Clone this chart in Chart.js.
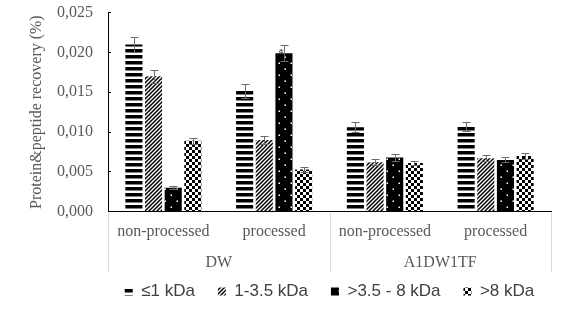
<!DOCTYPE html>
<html>
<head>
<meta charset="utf-8">
<script src="https://cdn.jsdelivr.net/npm/chart.js@4.4.1/dist/chart.umd.min.js"></script>
<style>
  html, body { margin: 0; padding: 0; background: #fff; }
  #wrap { width: 568px; height: 310px; }
</style>
</head>
<body>
<div id="wrap"><canvas id="recoveryChart"></canvas></div>
<script>
const treatments = ['non-processed', 'processed', 'non-processed', 'processed'];
const waters = ['DW', 'A1DW1TF'];
const seriesNames = ['≤1 kDa', '1-3.5 kDa', '>3.5 - 8 kDa', '>8 kDa'];

const below1 = [0.0210, 0.0152, 0.0106, 0.0107];
const below1Err = [0.0010, 0.0009, 0.0006, 0.0006];
const from1to35 = [0.0170, 0.0090, 0.0062, 0.0067];
const from1to35Err = [0.0008, 0.0005, 0.0004, 0.0004];
const from35to8 = [0.0030, 0.0199, 0.0068, 0.0065];
const from35to8Err = [0.0002, 0.0010, 0.0004, 0.0003];
const above8 = [0.0089, 0.0053, 0.0061, 0.0070];
const above8Err = [0.0004, 0.0003, 0.0003, 0.0004];

// small letter marks over bars: [series, category, text]
const marks = [[2, 1, 'a']];

const serif = 'Liberation Serif';
const grey = '#595959';

function tile(w, h, paint) {
  const c = document.createElement('canvas');
  c.width = w; c.height = h;
  const g = c.getContext('2d');
  paint(g);
  return g.createPattern(c, 'repeat');
}

const hStripes = tile(6, 6, g => {
  g.fillStyle = '#fff'; g.fillRect(0, 0, 6, 6);
  g.fillStyle = '#000'; g.fillRect(0, 1, 6, 3.5);
});
const diagStripes = tile(4, 4, g => {
  g.fillStyle = '#fff'; g.fillRect(0, 0, 4, 4);
  g.strokeStyle = '#000'; g.lineWidth = 1.5;
  g.beginPath();
  g.moveTo(-1, 5); g.lineTo(5, -1);
  g.moveTo(-1, 1); g.lineTo(1, -1);
  g.moveTo(3, 5); g.lineTo(5, 3);
  g.stroke();
});
const dots = tile(12, 12, g => {
  g.fillStyle = '#000'; g.fillRect(0, 0, 12, 12);
  g.fillStyle = '#fff';
  g.fillRect(2.5, 2.5, 1.5, 1.5);
  g.fillRect(8.5, 8.5, 1.5, 1.5);
});
const checks = tile(6, 6, g => {
  g.fillStyle = '#fff'; g.fillRect(0, 0, 6, 6);
  g.fillStyle = '#000';
  g.fillRect(0, 0, 3, 3);
  g.fillRect(3, 3, 3, 3);
});

const errorBars = {
  id: 'errorBars',
  afterDatasetsDraw(chart) {
    const { ctx, scales: { y } } = chart;
    ctx.save();
    ctx.strokeStyle = '#6b6b6b';
    ctx.lineWidth = 1;
    chart.data.datasets.forEach((ds, i) => {
      chart.getDatasetMeta(i).data.forEach((bar, j) => {
        const v = ds.data[j], e = ds.errors[j];
        const x = Math.round(bar.x) + 0.5;
        const t = Math.round(y.getPixelForValue(v + e)) + 0.5;
        const b = Math.round(y.getPixelForValue(v - e)) + 0.5;
        ctx.beginPath();
        ctx.moveTo(x, t); ctx.lineTo(x, b);
        ctx.moveTo(x - 4, t); ctx.lineTo(x + 4, t);
        ctx.moveTo(x - 4, b); ctx.lineTo(x + 4, b);
        ctx.stroke();
      });
    });
    ctx.fillStyle = '#000';
    ctx.font = '9px ' + serif;
    ctx.textAlign = 'right';
    ctx.textBaseline = 'middle';
    marks.forEach(([s, c, txt]) => {
      const bar = chart.getDatasetMeta(s).data[c];
      const ds = chart.data.datasets[s];
      ctx.fillText(txt, bar.x - 1, y.getPixelForValue(ds.data[c] + ds.errors[c] * 0.3));
    });
    ctx.restore();
  }
};

const groupLines = {
  id: 'groupLines',
  afterDraw(chart) {
    const { ctx, chartArea, scales: { x, x2 } } = chart;
    ctx.save();
    ctx.strokeStyle = '#d9d9d9';
    ctx.lineWidth = 1;
    [-0.5, 1.5, 3.5].forEach(v => {
      const px = Math.round(x.getPixelForValue(v)) + 0.5;
      ctx.beginPath();
      ctx.moveTo(px, chartArea.bottom + 1);
      ctx.lineTo(px, x2.bottom);
      ctx.stroke();
    });
    ctx.restore();
  }
};

new Chart(document.getElementById('recoveryChart'), {
  type: 'bar',
  data: {
    labels: treatments,
    datasets: [
      { label: seriesNames[0], data: below1, errors: below1Err, backgroundColor: hStripes },
      { label: seriesNames[1], data: from1to35, errors: from1to35Err, backgroundColor: diagStripes },
      { label: seriesNames[2], data: from35to8, errors: from35to8Err, backgroundColor: dots },
      { label: seriesNames[3], data: above8, errors: above8Err, backgroundColor: checks }
    ]
  },
  options: {
    responsive: true,
    maintainAspectRatio: false,
    animation: false,
    layout: { padding: { top: 0, right: 17, left: 0, bottom: 0 } },
    datasets: { bar: { categoryPercentage: 0.71, barPercentage: 0.87, borderWidth: 0 } },
    scales: {
      x: {
        grid: { display: false, drawTicks: false },
        border: { color: '#000', width: 1 },
        ticks: { padding: 11, color: grey, font: { family: serif, size: 16 } }
      },
      x2: {
        type: 'category',
        position: 'bottom',
        labels: waters,
        offset: true,
        grid: { display: false, drawTicks: false },
        border: { display: false },
        ticks: { padding: 0, color: grey, font: { family: serif, size: 16 } }
      },
      y: {
        min: 0,
        max: 0.025,
        afterFit: s => { s.width = 108; s.paddingTop = 12.7; s.paddingBottom = 0; },
        grid: { drawOnChartArea: false, tickLength: -3, tickColor: '#000' },
        border: { color: '#000', width: 1 },
        ticks: {
          stepSize: 0.005,
          padding: 18,
          color: grey,
          font: { family: serif, size: 16 },
          callback: v => v.toFixed(3).replace('.', ',')
        },
        title: {
          display: true,
          text: 'Protein&peptide recovery (%)',
          color: grey,
          font: { family: serif, size: 16 },
          padding: { top: 27, bottom: 0 }
        }
      }
    },
    plugins: {
      tooltip: { enabled: false },
      legend: {
        position: 'bottom',
        fullSize: false,
        labels: {
          boxWidth: 8,
          boxHeight: 8,
          padding: 11,
          color: '#404040',
          font: { family: 'Liberation Sans', size: 17 },
          generateLabels(chart) {
            const items = Chart.defaults.plugins.legend.labels.generateLabels(chart);
            items.forEach((it, i) => {
              it.lineWidth = 0;
              if (i < items.length - 1) it.text += '\u2002\u2009';
            });
            return items;
          }
        }
      }
    }
  },
  plugins: [errorBars, groupLines]
});
</script>
</body>
</html>
